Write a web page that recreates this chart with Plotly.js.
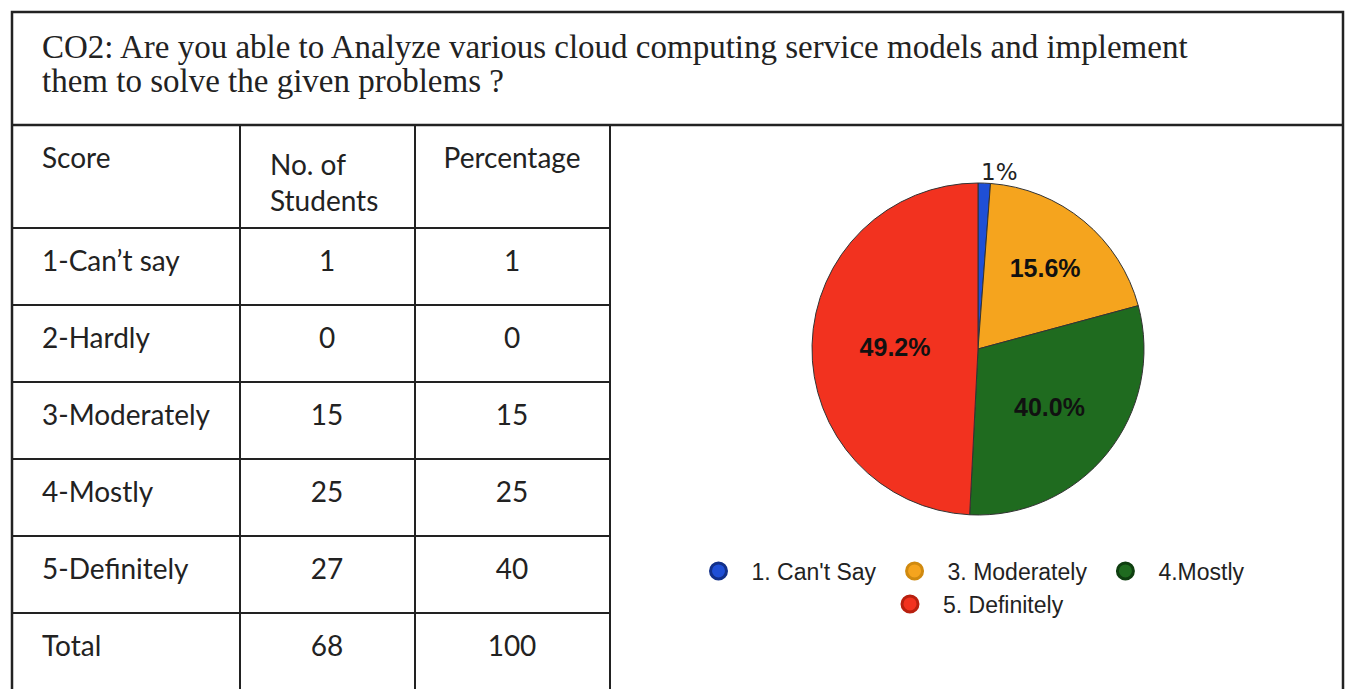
<!DOCTYPE html>
<html>
<head>
<meta charset="utf-8">
<script src="https://cdn.plot.ly/plotly-3.0.1.min.js"></script>
<style>html,body{margin:0;padding:0;background:#fff;}#chart{width:1353px;height:689px;}</style>
</head>
<body>
<div id="chart"></div>
<script>
// ---- data ----
var titleLines = ["CO2: Are you able to Analyze various cloud computing service models and implement",
                  "them to solve the given problems ?"];
var tableHeader = ["Score", "No. of<br>Students", "Percentage"];
var scores = ["1-Can’t say", "2-Hardly", "3-Moderately", "4-Mostly", "5-Definitely", "Total"];
var students = ["1", "0", "15", "25", "27", "68"];
var percentages = ["1", "0", "15", "25", "40", "100"];

var pieLabels = ["1. Can't Say", "3. Moderately", "4.Mostly", "5. Definitely"];
var pieValues = [1.2, 19.6, 30.0, 49.2];
var pieText = ["", "15.6%", "40.0%", "49.2%"];
var pieColors = ["#1f4fd6", "#f5a41e", "#1f6b1f", "#f2321f"];
var legendEdge = ["#12308a", "#d08a10", "#0f3f10", "#b8200f"];
var handNote = "1%";

var W = 1353, H = 689;
function px(x){ return x / W; }
function py(y){ return 1 - y / H; }
function blank(arr){ return arr.map(function(){ return ""; }); }

var tableFont = {family: "Lato", size: 28, color: "#222"};
var traces = [];
// grid of the table (same rows and columns, no text)
traces.push({
  type: "table",
  domain: {x: [px(12), px(610)], y: [0, py(125)]},
  columnwidth: [228, 175, 195],
  header: {values: blank(tableHeader), height: 103,
           line: {color: "#222", width: 2}, fill: {color: "#fff"}, font: tableFont},
  cells: {values: [blank(scores), blank(students), blank(percentages)], height: 77,
          line: {color: "#222", width: 2}, fill: {color: "#fff"}, font: tableFont}
});
// text of the table
traces.push({
  type: "table",
  domain: {x: [px(34), px(632)], y: [0, py(139)]},
  columnwidth: [228, 130, 240],
  header: {values: tableHeader, align: ["left", "left", "center"], height: 103,
           line: {color: "rgba(0,0,0,0)", width: 0}, fill: {color: "rgba(0,0,0,0)"},
           font: tableFont},
  cells: {values: [scores, students, percentages], align: ["left", "center", "center"], height: 77,
          line: {color: "rgba(0,0,0,0)", width: 0}, fill: {color: "rgba(0,0,0,0)"},
          font: tableFont}
});
traces.push({
  type: "pie",
  labels: pieLabels,
  values: pieValues,
  text: pieText,
  textinfo: "text",
  textposition: "inside",
  insidetextorientation: "horizontal",
  sort: false,
  direction: "clockwise",
  rotation: 0,
  showlegend: false,
  marker: {colors: pieColors, line: {color: "#333", width: 1}},
  textfont: {family: "Liberation Sans", size: 25, color: "#111", weight: "bold"},
  domain: {x: [px(812), px(1144)], y: [py(515), py(183)]}
});
for (var i = 0; i < pieLabels.length; i++) {
  traces.push({
    type: "scatter", mode: "markers",
    x: [null], y: [null],
    name: pieLabels[i],
    legend: i === 3 ? "legend2" : "legend",
    marker: {color: pieColors[i], size: 16, symbol: "circle", line: {color: legendEdge[i], width: 3}},
    hoverinfo: "skip"
  });
}

var legendBase = {
  orientation: "h", xanchor: "center", yanchor: "middle",
  bgcolor: "rgba(0,0,0,0)", borderwidth: 0, itemwidth: 56,
  font: {family: "Liberation Sans", size: 23, color: "#222"},
  itemclick: false
};

var layout = {
  width: W, height: H,
  margin: {l: 0, r: 0, t: 0, b: 0},
  paper_bgcolor: "#fff", plot_bgcolor: "rgba(0,0,0,0)",
  xaxis: {visible: false, domain: [0.99, 1]},
  yaxis: {visible: false, domain: [0.99, 1]},
  showlegend: true,
  legend: Object.assign({}, legendBase, {x: px(968), y: py(571)}),
  legend2: Object.assign({}, legendBase, {x: px(973), y: py(604)}),
  annotations: [
    {xref: "paper", yref: "paper", x: px(40), y: py(47), xanchor: "left", yanchor: "middle",
     text: titleLines[0], showarrow: false, font: {family: "Liberation Serif", size: 33, color: "#222"}},
    {xref: "paper", yref: "paper", x: px(40), y: py(81), xanchor: "left", yanchor: "middle",
     text: titleLines[1], showarrow: false, font: {family: "Liberation Serif", size: 33, color: "#222"}},
    {xref: "paper", yref: "paper", x: px(999), y: py(172), xanchor: "center", yanchor: "middle",
     text: handNote, showarrow: false, font: {family: "DejaVu Sans", size: 23, color: "#222"}}
  ],
  shapes: [
    {type: "rect", xref: "paper", yref: "paper", x0: px(12), x1: px(1343), y0: -0.05, y1: py(12),
     line: {color: "#222", width: 2.5}},
    {type: "line", xref: "paper", yref: "paper", x0: px(12), x1: px(1343), y0: py(125), y1: py(125),
     line: {color: "#222", width: 2.5}}
  ]
};

Plotly.newPlot("chart", traces, layout, {staticPlot: true});
</script>
</body>
</html>
